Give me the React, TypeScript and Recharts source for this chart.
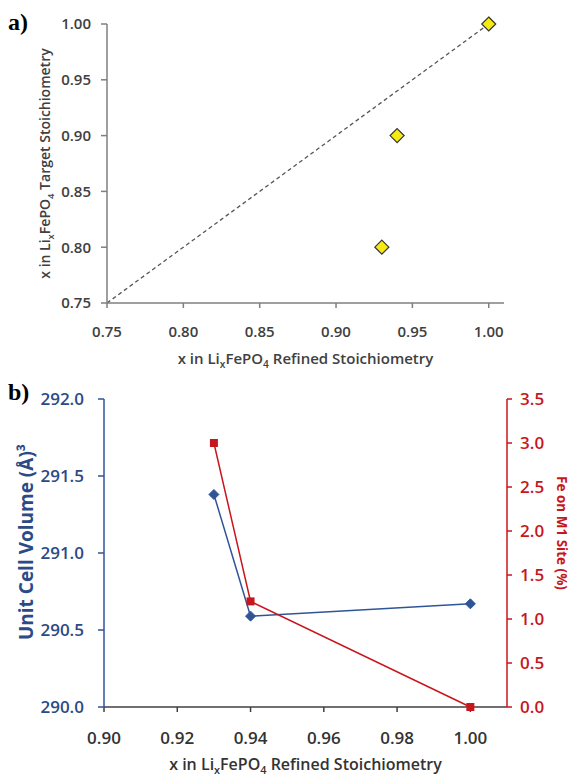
import React from "react"
import {
  ScatterChart,
  Scatter,
  LineChart,
  Line,
  XAxis,
  YAxis,
  ReferenceLine,
  Label,
} from "recharts"

// panel a: target vs refined stoichiometry
const refinedA = [0.93, 0.94, 1.0]
const targetA = [0.8, 0.9, 1.0]
const diagonal = [0.75, 1.0]
const ticksA = [0.75, 0.8, 0.85, 0.9, 0.95, 1.0]

// panel b: unit cell volume and Fe on M1 site
const refinedB = [0.93, 0.94, 1.0]
const cellVolume = [291.38, 290.59, 290.67]
const feOnM1 = [3.0, 1.2, 0.0]
const ticksBx = [0.9, 0.92, 0.94, 0.96, 0.98, 1.0]
const ticksVol = [290.0, 290.5, 291.0, 291.5, 292.0]
const ticksFe = [0, 0.5, 1.0, 1.5, 2.0, 2.5, 3.0, 3.5]

const FONT = "'Open Sans', 'DejaVu Sans', sans-serif"
const BLUE = "#2f5597"
const BLUE_TEXT = "#2b4a86"
const RED = "#c8161d"
const GRAY = "#7f7f7f"

const pointsA = refinedA.map((x, i) => ({ x, y: targetA[i] }))
const rowsB = refinedB.map((x, i) => ({ x, vol: cellVolume[i], fe: feOnM1[i] }))

function formula(rest: string, size: number) {
  const sub = size * 0.68
  const shift = size * 0.25
  return [
    <tspan key="a">x in Li</tspan>,
    <tspan key="b" fontSize={sub} dy={shift}>x</tspan>,
    <tspan key="c" dy={-shift}>FePO</tspan>,
    <tspan key="d" fontSize={sub} dy={shift}>4</tspan>,
    <tspan key="e" dy={-shift}>{" " + rest}</tspan>,
  ]
}

const YellowDiamond = (props: any) => {
  const { cx, cy } = props
  if (cx == null || cy == null) return null
  const r = 7
  return (
    <polygon
      points={`${cx},${cy - r} ${cx + r},${cy} ${cx},${cy + r} ${cx - r},${cy}`}
      fill="#f6ea14"
      stroke="#333"
      strokeWidth={1.2}
    />
  )
}

const BlueDiamond = (props: any) => {
  const { cx, cy, key } = props
  if (cx == null || cy == null) return null
  const r = 5
  return (
    <polygon
      key={key}
      points={`${cx},${cy - r} ${cx + r},${cy} ${cx},${cy + r} ${cx - r},${cy}`}
      fill={BLUE}
      stroke={BLUE}
    />
  )
}

const RedSquare = (props: any) => {
  const { cx, cy, key } = props
  if (cx == null || cy == null) return null
  return <rect key={key} x={cx - 4} y={cy - 4} width={8} height={8} fill={RED} />
}

export default function App() {
  const tickA = { fill: "#404040", fontSize: 15, fontWeight: 600, fontFamily: FONT }
  const tickB = { fontSize: 17, fontWeight: 600, fontFamily: FONT }
  const panelLabel: React.CSSProperties = {
    position: "absolute",
    left: 8,
    fontFamily: "'Liberation Serif', serif",
    fontWeight: 700,
    fontSize: 24,
    lineHeight: 1,
  }

  return (
    <div style={{ position: "absolute", left: 0, top: 0, width: 574, height: 777, background: "#fff" }}>
      <div style={{ ...panelLabel, top: 10 }}>a)</div>
      <div style={{ ...panelLabel, top: 380 }}>b)</div>

      <div style={{ position: "absolute", left: 0, top: 0 }}>
        <ScatterChart width={574} height={380} margin={{ top: 24, right: 70, bottom: 17, left: 47 }}>
          <XAxis
            type="number"
            dataKey="x"
            domain={[0.75, 1.01]}
            ticks={ticksA}
            tickFormatter={(v: number) => v.toFixed(2)}
            height={60}
            tickSize={5}
            tickMargin={18}
            tick={tickA}
            axisLine={{ stroke: GRAY, strokeWidth: 1.5 }}
            tickLine={{ stroke: GRAY, strokeWidth: 1.5 }}
          >
            <Label
              content={(p: any) => {
                const vb = p.viewBox
                return (
                  <text
                    x={vb.x + vb.width / 2}
                    y={vb.y + 61}
                    textAnchor="middle"
                    fill="#404040"
                    fontSize={15}
                    fontWeight={600}
                    fontFamily={FONT}
                  >
                    {formula("Refined Stoichiometry", 15)}
                  </text>
                )
              }}
            />
          </XAxis>
          <YAxis
            type="number"
            dataKey="y"
            domain={[0.75, 1.0]}
            ticks={ticksA}
            tickFormatter={(v: number) => v.toFixed(2)}
            width={60}
            tickSize={6}
            tickMargin={10}
            tick={tickA}
            axisLine={{ stroke: GRAY, strokeWidth: 1.5 }}
            tickLine={{ stroke: GRAY, strokeWidth: 1.5 }}
          >
            <Label
              content={(p: any) => {
                const vb = p.viewBox
                const cx = vb.x - 2
                const cy = vb.y + vb.height / 2
                return (
                  <text
                    x={cx}
                    y={cy + 5}
                    transform={`rotate(-90, ${cx}, ${cy})`}
                    textAnchor="middle"
                    fill="#404040"
                    fontSize={14}
                    fontWeight={600}
                    fontFamily={FONT}
                  >
                    {formula("Target Stoichiometry", 14)}
                  </text>
                )
              }}
            />
          </YAxis>
          <ReferenceLine
            segment={[
              { x: diagonal[0], y: diagonal[0] },
              { x: diagonal[1], y: diagonal[1] },
            ]}
            stroke="#555"
            strokeWidth={1.3}
            strokeDasharray="4 3"
          />
          <Scatter data={pointsA} shape={YellowDiamond} isAnimationActive={false} />
        </ScatterChart>
      </div>

      <div style={{ position: "absolute", left: 0, top: 380 }}>
        <LineChart width={574} height={397} data={rowsB} margin={{ top: 19, right: 7, bottom: 10, left: 34 }}>
          <XAxis
            type="number"
            dataKey="x"
            domain={[0.9, 1.01]}
            ticks={ticksBx}
            tickFormatter={(v: number) => v.toFixed(2)}
            height={60}
            tickSize={5}
            tickMargin={20}
            tick={{ ...tickB, fill: "#333" }}
            axisLine={{ stroke: "#404040", strokeWidth: 1.5 }}
            tickLine={{ stroke: "#404040", strokeWidth: 1.5 }}
          >
            <Label
              content={(p: any) => {
                const vb = p.viewBox
                return (
                  <text
                    x={vb.x + vb.width / 2}
                    y={vb.y + 63}
                    textAnchor="middle"
                    fill="#333"
                    fontSize={16}
                    fontWeight={600}
                    fontFamily={FONT}
                  >
                    {formula("Refined Stoichiometry", 16)}
                  </text>
                )
              }}
            />
          </XAxis>
          <YAxis
            yAxisId="vol"
            orientation="left"
            type="number"
            domain={[290, 292]}
            ticks={ticksVol}
            tickFormatter={(v: number) => v.toFixed(1)}
            width={70}
            tickSize={6}
            tickMargin={14}
            tick={{ ...tickB, fill: BLUE_TEXT }}
            axisLine={{ stroke: BLUE, strokeWidth: 1.5 }}
            tickLine={{ stroke: BLUE, strokeWidth: 1.5 }}
          >
            <Label
              content={(p: any) => {
                const vb = p.viewBox
                const cx = vb.x - 8
                const cy = vb.y + vb.height / 2 - 11
                return (
                  <text
                    x={cx}
                    y={cy + 7}
                    transform={`rotate(-90, ${cx}, ${cy})`}
                    textAnchor="middle"
                    fill={BLUE_TEXT}
                    fontSize={19}
                    fontWeight={700}
                    fontFamily={FONT}
                  >
                    Unit Cell Volume (Å)³
                  </text>
                )
              }}
            />
          </YAxis>
          <YAxis
            yAxisId="fe"
            orientation="right"
            type="number"
            domain={[0, 3.5]}
            ticks={ticksFe}
            tickFormatter={(v: number) => v.toFixed(1)}
            width={60}
            tickSize={5}
            tickMargin={8}
            tick={{ ...tickB, fill: RED }}
            axisLine={{ stroke: RED, strokeWidth: 1.5 }}
            tickLine={{ stroke: RED, strokeWidth: 1.5 }}
          >
            <Label
              content={(p: any) => {
                const vb = p.viewBox
                const cx = vb.x + 55
                const cy = vb.y + vb.height / 2 - 20
                return (
                  <text
                    x={cx}
                    y={cy + 5}
                    transform={`rotate(90, ${cx}, ${cy})`}
                    textAnchor="middle"
                    fill={RED}
                    fontSize={13.5}
                    fontWeight={700}
                    fontFamily={FONT}
                  >
                    Fe on M1 Site (%)
                  </text>
                )
              }}
            />
          </YAxis>
          <Line
            yAxisId="vol"
            type="linear"
            dataKey="vol"
            stroke={BLUE}
            strokeWidth={1.5}
            dot={BlueDiamond}
            activeDot={false}
            isAnimationActive={false}
          />
          <Line
            yAxisId="fe"
            type="linear"
            dataKey="fe"
            stroke={RED}
            strokeWidth={1.5}
            dot={RedSquare}
            activeDot={false}
            isAnimationActive={false}
          />
        </LineChart>
      </div>
    </div>
  )
}
